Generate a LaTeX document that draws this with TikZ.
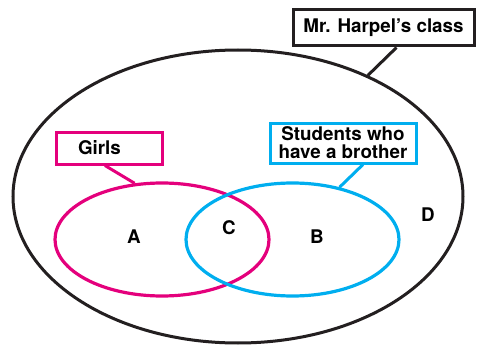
\documentclass[tikz,border=0pt]{standalone}
\usepackage{fontspec}
\setmainfont{TeX Gyre Heros}
\usetikzlibrary{shapes.geometric}
\definecolor{vpink}{HTML}{E4007C}
\definecolor{vblue}{HTML}{00AEEF}
\definecolor{vblack}{HTML}{231F20}
\tikzset{
  lbl/.style={font=\fontsize{18.8}{18}\selectfont\bfseries, text=black, inner sep=0pt},
  setell/.style={ellipse, draw, line width=3.2pt, inner sep=0pt},
  tagbox/.style={draw, line width=3pt, fill=white, inner sep=0pt, font=\fontsize{18.8}{18}\selectfont\bfseries, align=center},
  conn/.style={line width=3pt}
}
\begin{document}
\begin{tikzpicture}[x=1pt,y=-1pt]
\useasboundingbox (0,0) rectangle (477,345);
% outer set
\node[setell, draw=vblack, line width=3pt, minimum width=450pt, minimum height=293pt] (class) at (238,196.5) {};
% inner sets
\node[setell, draw=vpink, minimum width=214pt, minimum height=113pt] (girlsset) at (162,239.5) {};
\node[setell, draw=vblue, minimum width=213pt, minimum height=113pt] (broset) at (292.5,239.5) {};
% tag boxes
\node[tagbox, draw=vblack, minimum width=181pt, minimum height=36pt] (classtag) at (383.5,28) {Mr. Harpel’s class};
\node[tagbox, draw=vpink, minimum width=106pt, minimum height=32pt, text width=62pt, inner xsep=22pt, align=left] (girlstag) at (109,148) {Girls};
\node[tagbox, draw=vblue, minimum width=146pt, minimum height=40pt] (brotag) at (343,143) {Students who\\have a brother};
% connectors
\draw[conn, vblack] ([xshift=13pt]classtag.south) -- (class.43.6);
\draw[conn, vpink] ([xshift=-4pt]girlstag.south) -- (girlsset.116);
\draw[conn, vblue] ([xshift=20pt]brotag.south) -- (broset.48.3);
% region labels
\node[lbl] (la) at (134,237) {A};
\node[lbl] (lc) at (229,228) {C};
\node[lbl] (lb) at (317,237) {B};
\node[lbl] (ld) at (428,215) {D};
\end{tikzpicture}
\end{document}
